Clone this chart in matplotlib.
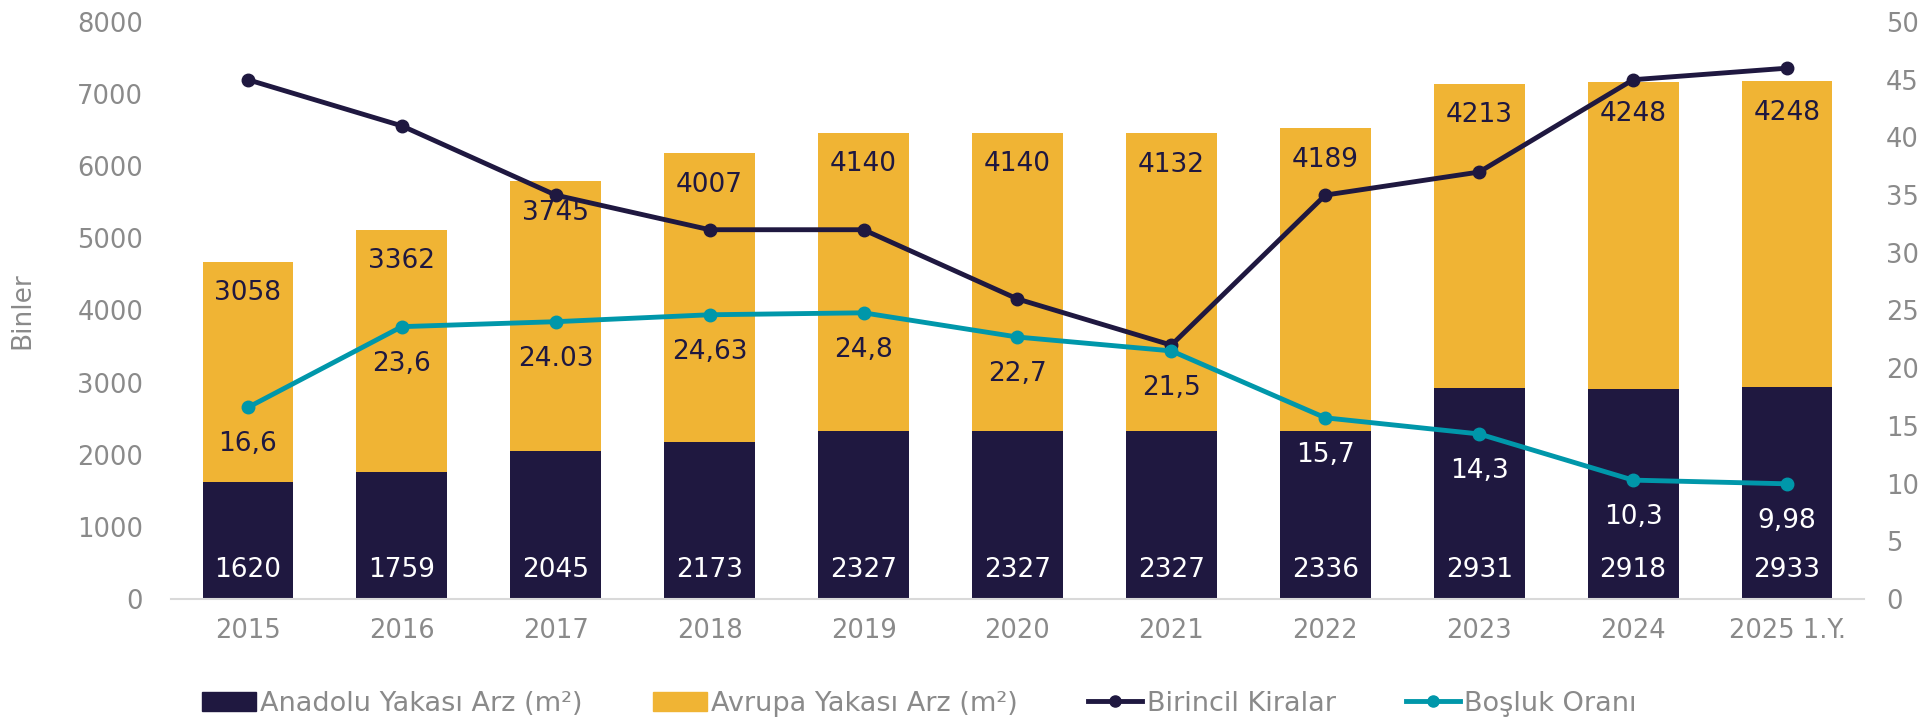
import numpy as np
import matplotlib.pyplot as plt
from matplotlib.lines import Line2D
from matplotlib.patches import Patch

plt.rcParams['font.family'] = ['DejaVu Sans']

years = ['2015', '2016', '2017', '2018', '2019', '2020', '2021', '2022', '2023', '2024', '2025 1.Y.']
anadolu = [1620, 1759, 2045, 2173, 2327, 2327, 2327, 2336, 2931, 2918, 2933]
avrupa = [3058, 3362, 3745, 4007, 4140, 4140, 4132, 4189, 4213, 4248, 4248]
kira = [45, 41, 35, 32, 32, 26, 22, 35, 37, 45, 46]
bosluk = [16.6, 23.6, 24.03, 24.63, 24.8, 22.7, 21.5, 15.7, 14.3, 10.3, 9.98]
bosluk_txt = ['16,6', '23,6', '24.03', '24,63', '24,8', '22,7', '21,5', '15,7', '14,3', '10,3', '9,98']

navy = '#1f1840'
yellow = '#f0b434'
teal = '#0097aa'
gray = '#8a8a8a'

fig = plt.figure(figsize=(19.23, 7.22), dpi=100)
ax1 = fig.add_axes([0.0889, 0.1704, 0.8804, 0.7991])
ax2 = ax1.twinx()

x = np.arange(len(years))
w = 0.59
ax1.bar(x, anadolu, w, color=navy, zorder=2)
ax1.bar(x, avrupa, w, bottom=anadolu, color=yellow, zorder=2)

for i in range(len(years)):
    ax1.text(x[i], 400, str(anadolu[i]), ha='center', va='center', color='white', fontsize=19)
    ax1.text(x[i], anadolu[i] + avrupa[i] - 440, str(avrupa[i]), ha='center', va='center', color=navy, fontsize=19)

ax1.set_ylim(0, 8000)
ax1.set_xlim(-0.5, len(years) - 0.5)
ax1.set_yticks(range(0, 8001, 1000))
ax1.set_xticks(x)
ax1.set_xticklabels(years)
ax1.set_ylabel('Binler', color=gray, fontsize=19, labelpad=30)

ax2.plot(x, kira, color=navy, lw=3.5, marker='o', ms=9, zorder=5)
ax2.plot(x, bosluk, color=teal, lw=3.5, marker='o', ms=9, zorder=5)
ax2.set_ylim(0, 50)
ax2.set_yticks(range(0, 51, 5))

# labels for vacancy rate, under each point
for i in range(len(years)):
    ly = bosluk[i] - 3.2
    c = 'white' if ly * 160 < anadolu[i] else navy
    ax2.text(x[i], ly, bosluk_txt[i], ha='center', va='center', color=c, fontsize=19, zorder=6)

for ax in (ax1, ax2):
    for s in ax.spines.values():
        s.set_visible(False)
    ax.tick_params(length=0, colors=gray, labelsize=18.5)
ax1.spines['bottom'].set_visible(True)
ax1.spines['bottom'].set_color('#d9d9d9')
ax1.spines['bottom'].set_linewidth(1.5)
ax1.tick_params(axis='y', pad=20)
ax1.tick_params(axis='x', pad=14)
ax2.tick_params(axis='y', pad=16)

handles = [Patch(color=navy), Patch(color=yellow),
           Line2D([], [], color=navy, lw=3.5, marker='o', ms=8),
           Line2D([], [], color=teal, lw=3.5, marker='o', ms=8)]
labels = ['Anadolu Yakası Arz (m²)', 'Avrupa Yakası Arz (m²)', 'Birincil Kiralar', 'Boşluk Oranı']
leg = fig.legend(handles, labels, loc='center', bbox_to_anchor=(0.478, 0.025), ncol=4,
                 frameon=False, fontsize=19.5, handlelength=2.0, handletextpad=0.15, columnspacing=2.6)
for t in leg.get_texts():
    t.set_color(gray)

fig.savefig('out.png', dpi=100)
